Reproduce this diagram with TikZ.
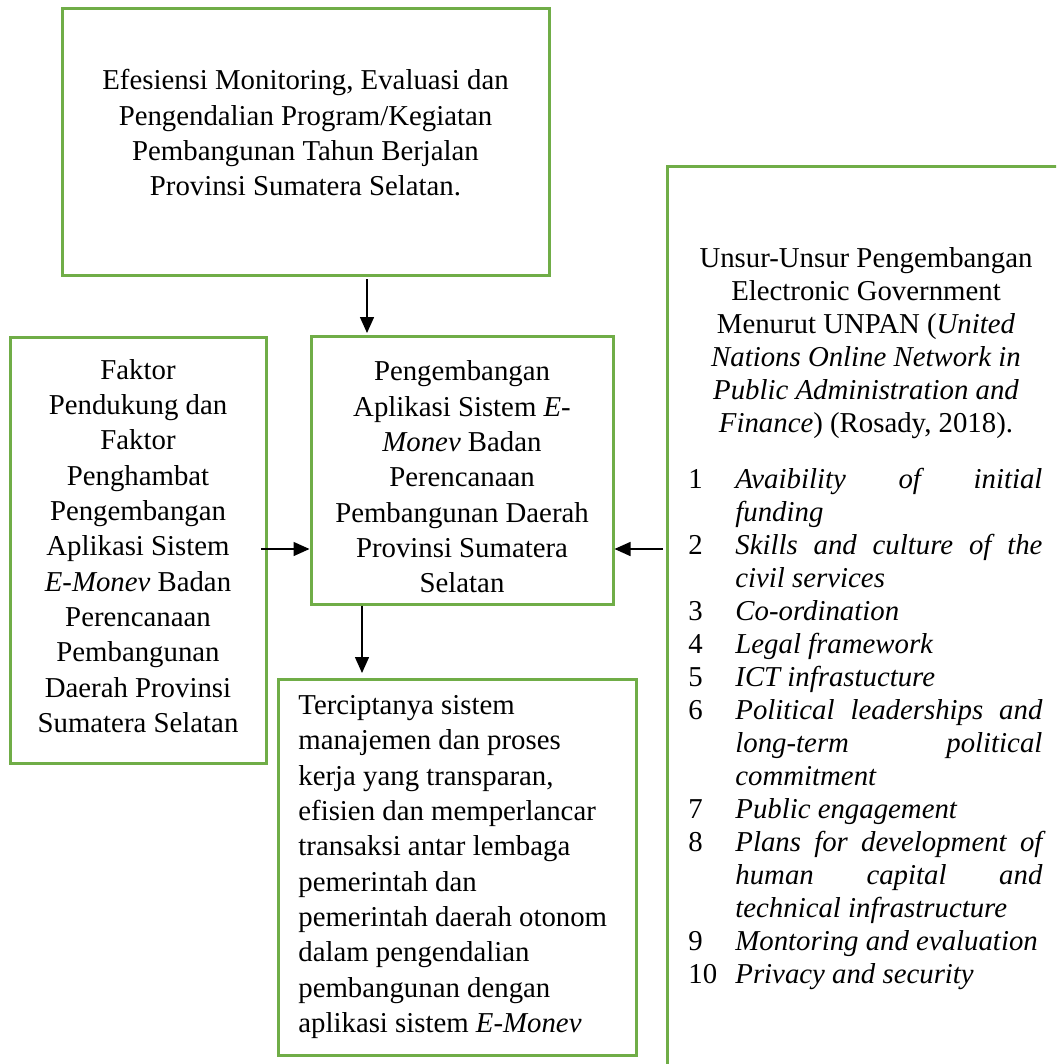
\documentclass[tikz,border=0pt]{standalone}
\usepackage{fontspec}
\setmainfont{Liberation Serif}
\usetikzlibrary{arrows.meta,calc}
\definecolor{boxgreen}{RGB}{112,173,71}
\newcommand{\diagfont}{\fontsize{14.4pt}{17.65pt}\selectfont}
\newcommand{\listfont}{\fontsize{14.4pt}{16.5pt}\selectfont}
\newcommand{\ritem}[2]{\par\noindent\hangindent=23.5pt\hangafter=1\makebox[23.5pt][l]{#1}\textit{#2}\par}
\hyphenpenalty=10000
\begin{document}
\begin{tikzpicture}[x=0.5pt,y=-0.5pt,
  gbox/.style={draw=boxgreen, line width=1.5pt, rectangle, inner sep=0pt},
  txt/.style={inner sep=0pt, font=\diagfont},
  arr/.style={-{Triangle[length=8pt,width=7pt]}, line width=0.75pt, black}]
\useasboundingbox (0,0) rectangle (1056,1064);
\clip (0,0) rectangle (1056,1064);

% top box
\node[gbox, minimum width=243.5pt, minimum height=133pt] (top) at (305.5,142) {};
\node[txt, align=center] (toptext) at (305.5,133) {Efesiensi Monitoring, Evaluasi dan\\Pengendalian Program/Kegiatan\\Pembangunan Tahun Berjalan\\Provinsi Sumatera Selatan.};

% left box
\node[gbox, minimum width=128pt, minimum height=213pt] (left) at (138,550) {};
\node[txt, align=center] (lefttext) at (138,546) {Faktor\\Pendukung dan\\Faktor\\Penghambat\\Pengembangan\\Aplikasi Sistem\\\textit{E-Monev} Badan\\Perencanaan\\Pembangunan\\Daerah Provinsi\\Sumatera Selatan};

% middle box
\node[gbox, minimum width=151pt, minimum height=134pt] (mid) at (462,470) {};
\node[txt, align=center] (midtext) at (462,477) {Pengembangan\\Aplikasi Sistem \textit{E-}\\\textit{Monev} Badan\\Perencanaan\\Pembangunan Daerah\\Provinsi Sumatera\\Selatan};

% bottom box
\node[gbox, minimum width=179pt, minimum height=188pt] (bot) at (457,867) {};
\node[txt, align=left, anchor=west] (bottext) at (298,867) {Terciptanya sistem\\manajemen dan proses\\kerja yang transparan,\\efisien dan memperlancar\\transaksi antar lembaga\\pemerintah dan\\pemerintah daerah otonom\\dalam pengendalian\\pembangunan dengan\\aplikasi sistem \textit{E-Monev}};

% right box (extends past the page)
\node[gbox, minimum width=201.5pt, minimum height=456.5pt] (right) at (868.5,623.5) {};
\node[inner sep=0pt, font=\listfont, align=center] (rhead) at (866,343) {Unsur-Unsur Pengembangan\\Electronic Government\\Menurut UNPAN (\textit{United}\\\textit{Nations Online Network in}\\\textit{Public Administration and}\\\textit{Finance}) (Rosady, 2018).};
\node[inner sep=0pt, font=\listfont, text width=177pt, align=justify, anchor=base west] (rlist) at (688,455) {%
\ritem{1}{Avaibility of initial\linebreak funding}%
\ritem{2}{Skills and culture of the\linebreak civil services}%
\ritem{3}{Co-ordination}%
\ritem{4}{Legal framework}%
\ritem{5}{ICT infrastucture}%
\ritem{6}{Political leaderships and\linebreak long-term political\linebreak commitment}%
\ritem{7}{Public engagement}%
\ritem{8}{Plans for development of\linebreak human capital and\linebreak technical infrastructure}%
\ritem{9}{Montoring and evaluation}%
\ritem{10}{Privacy and security}};

% connectors
\coordinate (ax1) at (367,0);
\coordinate (ax2) at (362,0);
\coordinate (ay) at (0,549);
\draw[arr, shorten <=1.25pt, shorten >=0.75pt] (ax1 |- top.south) -- (ax1 |- mid.north);
\draw[arr, shorten <=-3.25pt] (left.east |- ay) -- (mid.west |- ay);
\draw[arr, shorten <=1.25pt] (right.west |- ay) -- (mid.east |- ay);
\draw[arr, shorten >=2.25pt] (ax2 |- mid.south) -- (ax2 |- bot.north);
\end{tikzpicture}
\end{document}
